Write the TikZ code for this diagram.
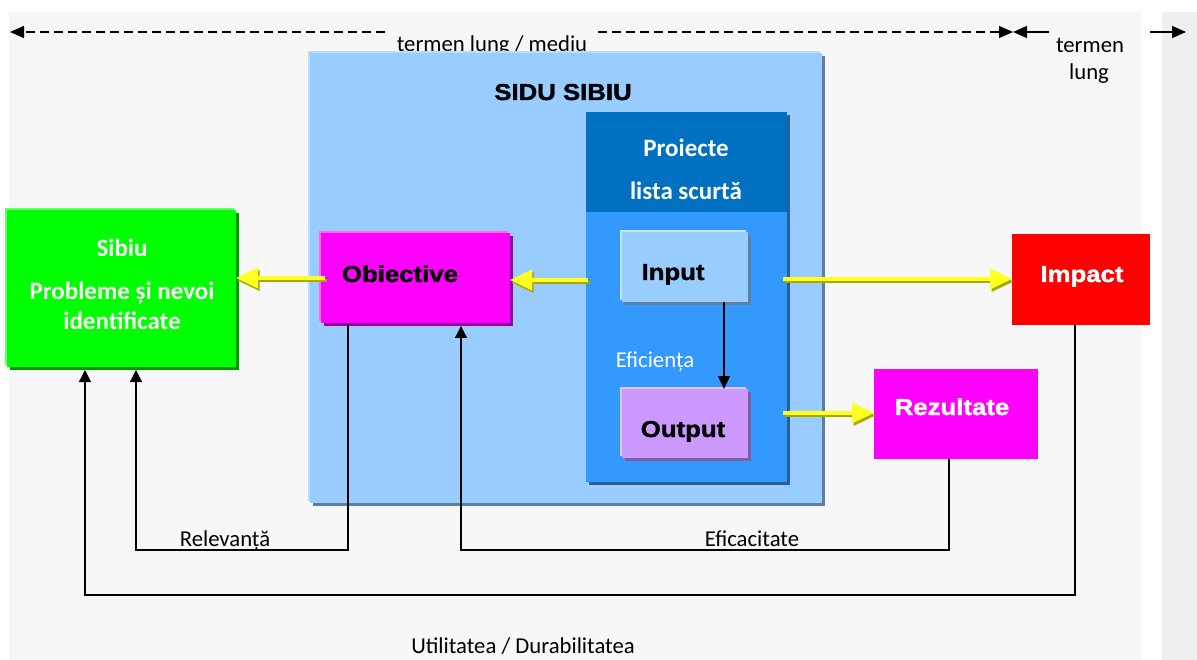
\documentclass[tikz,border=0pt]{standalone}
\usepackage{fontspec}
\setmainfont{Carlito}
\newfontfamily\heavy[FakeStretch=1.12,BoldFeatures={FakeBold=1.5}]{Liberation Sans}
\usetikzlibrary{arrows.meta,shadows}
\definecolor{bgA}{HTML}{F7F7F7}
\definecolor{bgB}{HTML}{EFEFEF}
\definecolor{siduC}{HTML}{99CCFF}
\definecolor{siduS}{HTML}{5F7F9F}
\definecolor{siduH}{HTML}{B8DCFF}
\definecolor{projB}{HTML}{3399FF}
\definecolor{projH}{HTML}{0070C0}
\definecolor{projS}{HTML}{2A5F95}
\definecolor{inC}{HTML}{99CCFF}
\definecolor{inH}{HTML}{C6E2FF}
\definecolor{inS}{HTML}{5F7F9F}
\definecolor{outC}{HTML}{CC99FF}
\definecolor{outH}{HTML}{E2C6FF}
\definecolor{outS}{HTML}{7F5F9F}
\definecolor{objC}{HTML}{FF00FF}
\definecolor{objH}{HTML}{FF66FF}
\definecolor{objS}{HTML}{9900AA}
\definecolor{grC}{HTML}{00FF00}
\definecolor{grH}{HTML}{66FF66}
\definecolor{grS}{HTML}{009900}
\definecolor{impC}{HTML}{FF0000}
\definecolor{rezC}{HTML}{FF00FF}
\definecolor{yel}{HTML}{FFFF22}
\definecolor{olv}{HTML}{A8A800}
\newcommand\txtR{\fontsize{22.7}{26}\selectfont}
\newcommand\txtB{\fontsize{25}{30}\selectfont\bfseries}
\newcommand\txtH{\heavy\fontsize{23}{28}\selectfont\bfseries}
\tikzset{
  box/.style={draw=none,anchor=north west,inner sep=0pt,outer sep=0pt},
  sh/.style={general shadow={shadow xshift=3pt,shadow yshift=-3pt,fill=#1}},
  hl/.style={general shadow={shadow xshift=-2pt,shadow yshift=2pt,fill=#1}},
  lbl/.style={anchor=base,inner sep=0pt},
  dasharrow/.style={line width=1.2pt,dash pattern=on 9pt off 5pt,-{Triangle[length=14pt,width=12pt]}},
  solarrow/.style={line width=1.2pt,-{Triangle[length=14pt,width=12pt]}},
  conn/.style={line width=1.2pt,-{Triangle[length=12pt,width=12pt]}},
  yarr/.style={line width=3.5pt,draw=yel,-{Triangle[length=22pt,width=20pt]},
    preaction={draw=olv,line width=3.5pt,-{Triangle[length=22pt,width=20pt]},
      transform canvas={shift={(1.5pt,-2.5pt)}}}}
}
\begin{document}
\begin{tikzpicture}[x=1pt,y=-1pt]
\useasboundingbox (0,0) rectangle (1197,660);
\fill[bgA] (9,12) rectangle (1141,660);
\fill[bgB] (1162,12) rectangle (1197,660);

% top time arrows
\coordinate (dL) at (10,32);
\coordinate (dLs) at (385,32);
\coordinate (dRs) at (598,32);
\coordinate (dM) at (1013,32);
\coordinate (sRs) at (1049,32);
\coordinate (eRs) at (1150,32);
\coordinate (eR) at (1186,32);
\draw[dasharrow] (dLs) -- (dL);
\draw[dasharrow] (dRs) -- (dM);
\draw[solarrow] (sRs) -- (dM);
\draw[solarrow] (eRs) -- (eR);
\node[lbl,font=\txtR] (tlm) at (492,52) {termen lung / mediu};
\node[lbl,font=\txtR] (tl1) at (1090,53) {termen};
\node[lbl,font=\txtR] (tl2) at (1089,80) {lung};

% SIDU SIBIU container
\node[box,fill=siduC,minimum width=512pt,minimum height=450pt,hl=siduH,sh=siduS] (sidu) at (310,53) {};
\node[lbl,font=\txtH] (siduT) at (563,100) {SIDU SIBIU};

% projects container
\node[box,fill=projB,minimum width=201pt,minimum height=370pt,sh=projS] (proj) at (586,112) {};
\node[box,fill=projH,minimum width=201pt,minimum height=100pt] (projhead) at (586,112) {};
\node[lbl,font=\txtB,text=white] (projT1) at (686,157) {Proiecte};
\node[lbl,font=\txtB,text=white] (projT2) at (686,200) {lista scurtă};

% input / output
\node[box,fill=inC,minimum width=126pt,minimum height=70pt,hl=inH,sh=inS] (inp) at (622,232) {};
\node[lbl,font=\txtH] (inpT) at (673,280) {Input};
\node[box,fill=outC,minimum width=126pt,minimum height=69pt,hl=outH,sh=outS] (out) at (622,389) {};
\node[lbl,font=\txtH] (outT) at (683,437) {Output};
\node[lbl,font=\txtR,text=white] (efic) at (655,367) {Eficiența};
\draw[line width=1.5pt,-{Triangle[length=13pt,width=12pt]}] ([xshift=39pt]inp.south) -- ([xshift=39pt]out.north);

% objective
\node[box,fill=objC,minimum width=189pt,minimum height=90pt,hl=objH,sh=objS] (obj) at (321,233) {};
\node[lbl,font=\txtH] (objT) at (400,282) {Obiective};

% green box
\node[box,fill=grC,minimum width=229pt,minimum height=157pt,hl=grH,sh=grS] (green) at (7,210) {};
\node[lbl,font=\txtB,text=white] (grT1) at (122,257) {Sibiu};
\node[lbl,font=\txtB,text=white] (grT2) at (122,300) {Probleme și nevoi};
\node[lbl,font=\txtB,text=white] (grT3) at (122,330) {identificate};

% impact / rezultate
\node[box,fill=impC,minimum width=138pt,minimum height=91pt] (imp) at (1012,234) {};
\node[lbl,font=\txtH,text=white] (impT) at (1082,282) {Impact};
\node[box,fill=rezC,minimum width=164pt,minimum height=90pt] (rez) at (874,369) {};
\node[lbl,font=\txtH,text=white] (rezT) at (952,415) {Rezultate};

% yellow arrows
\coordinate (ya1) at (325,278);
\draw[yarr] (ya1) -- (ya1 -| green.east);
\coordinate (ya2) at (588,280);
\draw[yarr] (ya2) -- (ya2 -| obj.east);
\coordinate (ya3) at (783,279);
\draw[yarr] (ya3) -- (ya3 -| imp.west);
\coordinate (ya4) at (783,413);
\draw[yarr] (ya4) -- (ya4 -| rez.west);

% feedback loops
\draw[conn] ([xshift=-67.5pt]obj.south) -- ++(0,227) -| ([xshift=14.5pt,yshift=-3pt]green.south);
\draw[conn] ([xshift=-7pt]rez.south) -- ++(0,91) -| ([xshift=45.5pt,yshift=-3pt]obj.south);
\draw[conn] ([xshift=-6pt]imp.south) -- ++(0,270) -| ([xshift=-36.5pt,yshift=-3pt]green.south);
\node[lbl,font=\txtR] (relT) at (225,546) {Relevanță};
\node[lbl,font=\txtR] (efT) at (752,546) {Eficacitate};
\node[lbl,font=\txtR] (utT) at (523,653) {Utilitatea / Durabilitatea};
\end{tikzpicture}
\end{document}
